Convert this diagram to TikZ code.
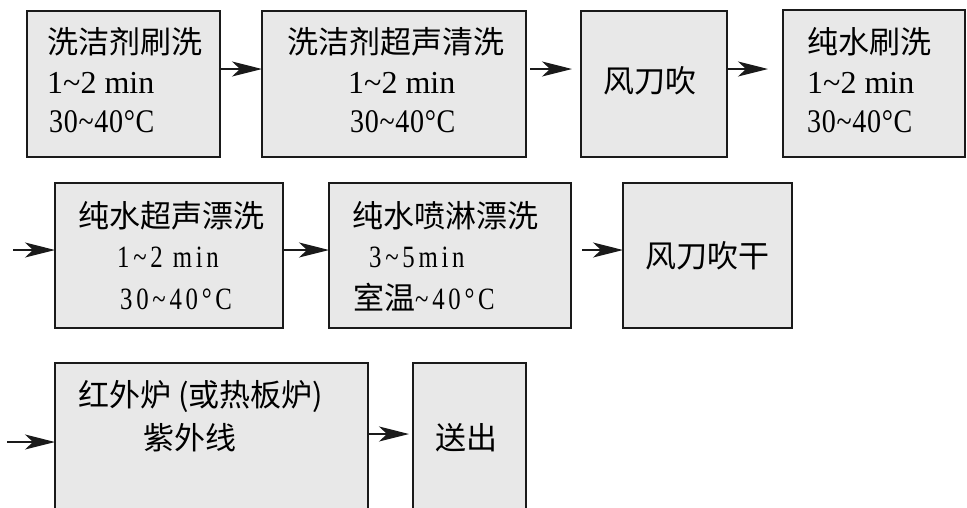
\documentclass[tikz,border=0pt]{standalone}
\usepackage{fontspec}
\setmainfont{Liberation Serif}
\newfontfamily\cjk{Noto Sans CJK SC}
\newfontfamily\cond[FakeStretch=0.8,LetterSpace=12]{Liberation Serif}
\newfontfamily\tempf[FakeStretch=0.85,LetterSpace=2]{Liberation Serif}
\usetikzlibrary{arrows.meta}
\definecolor{boxgray}{HTML}{E8E8E8}
\definecolor{edge}{HTML}{1A1A1A}
\newcommand\tl{\textasciitilde}
\begin{document}
\begin{tikzpicture}[x=1pt,y=-1pt,
  box/.style={draw=edge, line width=2.7pt, fill=boxgray, rectangle, inner sep=0pt, outer sep=0pt, anchor=north west},
  arr/.style={line width=1.3pt, draw=edge, -{Stealth[length=30pt,width=15pt,inset=8pt]}},
  zh/.style={font=\fontsize{31}{31}\cjk, anchor=base west, inner sep=0pt},
  lat/.style={font=\fontsize{32}{32}\selectfont, anchor=base west, inner sep=0pt},
  temp/.style={font=\fontsize{33}{33}\tempf, anchor=base west, inner sep=0pt},
  latc/.style={font=\fontsize{31}{31}\cond, anchor=base west, inner sep=0pt}]
\useasboundingbox (0,0) rectangle (967,507);
\clip (0,0) rectangle (967,507);
% boxes
\node[box, minimum width=193pt, minimum height=146pt] (b1) at (27,11) {};
\node[box, minimum width=264pt, minimum height=146pt] (b2) at (262,11) {};
\node[box, minimum width=146pt, minimum height=146pt] (b3) at (581,11) {};
\node[box, minimum width=182pt, minimum height=147pt] (b4) at (783,10) {};
\node[box, minimum width=228pt, minimum height=145pt] (b5) at (55,183) {};
\node[box, minimum width=242pt, minimum height=145pt] (b6) at (329,183) {};
\node[box, minimum width=169pt, minimum height=145pt] (b7) at (623,183) {};
\node[box, minimum width=313pt, minimum height=180pt] (b8) at (55,363) {};
\node[box, minimum width=113pt, minimum height=180pt] (b9) at (413,363) {};
% texts row 1
\node[zh] (t1a) at (47,53) {洗洁剂刷洗};
\node[lat] (t1b) at (47,93) {1\tl2 min};
\node[temp] (t1c) at (49,132) {30\tl40°C};
\node[zh] (t2a) at (287,53) {洗洁剂超声清洗};
\node[lat] (t2b) at (348,93) {1\tl2 min};
\node[temp] (t2c) at (350,132) {30\tl40°C};
\node[zh] (t3a) at (603,92) {风刀吹};
\node[zh] (t4a) at (807,53) {纯水刷洗};
\node[lat] (t4b) at (807,93) {1\tl2 min};
\node[temp] (t4c) at (807,132) {30\tl40°C};
% texts row 2
\node[zh] (t5a) at (78,227) {纯水超声漂洗};
\node[latc] (t5b) at (117,267) {1\tl2 min};
\node[latc] (t5c) at (120,309) {30\tl40°C};
\node[zh] (t6a) at (352,227) {纯水喷淋漂洗};
\node[latc] (t6b) at (369,267) {3\tl5min};
\node[zh] (t6c) at (353,309) {室温\fontsize{31}{31}\cond\tl40°C};
\node[zh] (t7a) at (645,267) {风刀吹干};
% texts row 3
\node[zh] (t8a) at (78,406) {红外炉 (或热板炉)};
\node[zh] (t8b) at (143,449) {紫外线};
\node[zh] (t9a) at (435,449) {送出};
% arrows
\coordinate (ya) at (0,69);
\draw[arr] (b1.east |- ya) -- (b2.west |- ya);
\draw[arr, shorten <=4pt, shorten >=9pt] (b2.east |- ya) -- (b3.west |- ya);
\draw[arr, shorten >=15pt] (b3.east |- ya) -- (b4.west |- ya);
\coordinate (in2) at (13,250);
\draw[arr] (in2) -- (b5.west |- in2);
\draw[arr] (b5.east |- in2) -- (b6.west |- in2);
\draw[arr, shorten <=11pt] (b6.east |- in2) -- (b7.west |- in2);
\coordinate (in3) at (7,442);
\draw[arr] (in3) -- (b8.west |- in3);
\coordinate (yc) at (0,434);
\draw[arr, shorten >=4pt] (b8.east |- yc) -- (b9.west |- yc);
\end{tikzpicture}
\end{document}
